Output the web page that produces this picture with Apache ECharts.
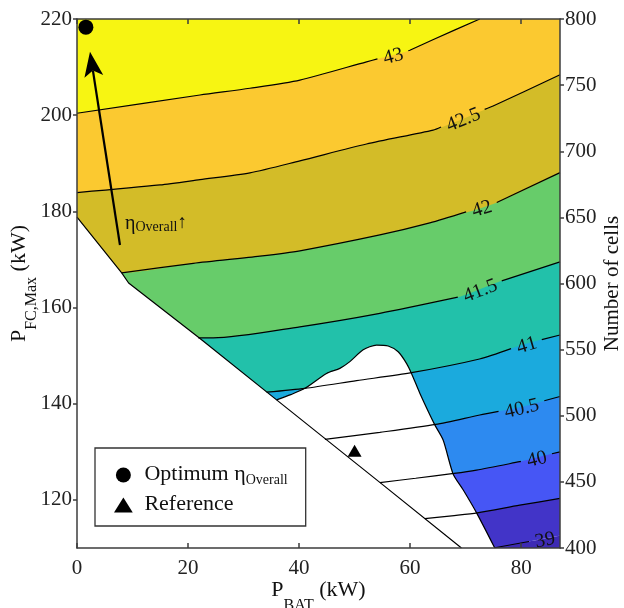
<!DOCTYPE html>
<html>
<head>
<meta charset="utf-8">
<script src="https://cdn.jsdelivr.net/npm/echarts@6.0.0/dist/echarts.min.js"></script>
<style>
html,body{margin:0;padding:0;background:#ffffff;}
#chart{width:624px;height:608px;}
</style>
</head>
<body>
<div id="chart"></div>
<script>
// ---------------- data ----------------
const xTicks = [0, 20, 40, 60, 80];
const yTicks = [120, 140, 160, 180, 200, 220];
const cellTicks = [400, 450, 500, 550, 600, 650, 700, 750, 800];

const levels = [39, 39.5, 40, 40.5, 41, 41.5, 42, 42.5, 43];
const contour39   = [[75.25,110.05],[82.15,111.5],[87,112.6]];
const contour39_5 = [[62.65,116.1],[67.5,116.7],[72.1,117.3],[79.75,118.9],[87,120.3]];
const contour40   = [[54.55,123.6],[61,124.5],[67.9,125.5],[71.95,126.2],[79.75,127.95],[87,130.0]];
const contour40_5 = [[44.65,132.6],[54.55,134.05],[64.6,135.7],[72.55,137.65],[80,139.3],[87,141.5]];
const contour41   = [[34.15,142.4],[41.05,143.2],[50.35,144.8],[60.25,146.45],[72.5,149.3],[80.95,152.5],[87,154.3]];
const contour41_5 = [[21.85,153.7],[24.55,153.7],[40.15,156.0],[54.55,158.8],[68.95,162.25],[76.15,165.4],[87,169.5]];
const contour42   = [[8.05,167.2],[20.95,169.2],[32.95,170.7],[40.15,171.8],[54.55,175.1],[63.55,177.6],[75.55,181.8],[87,188.05]];
const contour42_5 = [[0,183.9],[14.95,185.5],[22.15,186.6],[31.15,188.0],[40.15,190.5],[52.15,194.0],[64.15,196.9],[74.95,201.9],[87,208.4]];
const contour43   = [[0,200.4],[22.15,204.2],[31.15,205.6],[40.15,207.3],[52.15,211.1],[59.95,213.5],[64.1,215.7],[72.55,220]];
const contourLabelX = [84.25, null, 82.75, 80.05, 80.95, 72.55, 72.85, 69.5, 56.9];

const diagonalBoundary = [[0,178.8],[8.05,167.2],[9.3,165.1],[22.1,153.6],[35.95,140.8],[54.6,123.6],[69.25,110]];
const holeBoundary = [[35.95,140.8],[38.5,141.9],[41.05,143.2],[44.95,146.3],[47.35,147.35],[49.15,148.75],[51.55,151.2],
  [53.95,152.2],[56.05,152.0],[57.85,150.8],[59.35,148.4],[60.25,146.3],[61.75,142.2],[64.45,135.6],[65.95,132.45],
  [67.75,125.4],[69.55,122.1],[71.95,117.35],[75.25,110]];

const optimumPoint = [[1.6, 218.3]];
const referencePoint = [[50.0, 130.2]];
const arrowSegment = [[7.74, 173.0, 2.34, 213.2]];
const etaTextAt = [[8.64, 177.2]];

// ---------------- styling ----------------
const FONT = 'Liberation Serif';
const bandColors = ['#4234C8', '#4656F5', '#2D8AF0', '#1BAADD', '#22C1AA', '#67CC6A', '#D3BC28', '#FBC930', '#F7F512'];
const belowColor = '#3D2AB4';
const X_MIN = 0, X_MAX = 87, Y_MIN = 110, Y_MAX = 220;
const GRID = {left: 77, right: 64, top: 19, bottom: 60};
const pxPerX = (624 - GRID.left - GRID.right) / (X_MAX - X_MIN);
const pxPerY = (608 - GRID.top - GRID.bottom) / (Y_MAX - Y_MIN);
const SMOOTH = 0.25;
const contours = [contour39, contour39_5, contour40, contour40_5, contour41, contour41_5, contour42, contour42_5, contour43];

function interp(arr, x) {
  if (x <= arr[0][0]) { const a = arr[0], b = arr[1]; return a[1] + (b[1]-a[1])*(x-a[0])/(b[0]-a[0]); }
  for (let i = 1; i < arr.length; i++) {
    if (x <= arr[i][0]) { const a = arr[i-1], b = arr[i]; return a[1] + (b[1]-a[1])*(x-a[0])/(b[0]-a[0]); }
  }
  const a = arr[arr.length-2], b = arr[arr.length-1];
  return a[1] + (b[1]-a[1])*(x-a[0])/(b[0]-a[0]);
}
function fmtLevel(v) { return String(v); }
function textWidth(t) { let w = 0; for (const ch of t) w += (ch === '.') ? 0.25 : 0.5; return w * 20; }

const series = [];
let z = 1;
series.push({type: 'line', data: contour39, symbol: 'none', smooth: SMOOTH, silent: true, z: z++,
  lineStyle: {width: 0, opacity: 0}, areaStyle: {origin: 'start', color: belowColor, opacity: 1}});
contours.forEach((c, i) => {
  const d = c[0][0] > X_MIN ? [[X_MIN, c[0][1]]].concat(c) : c;
  series.push({type: 'line', data: d, symbol: 'none', smooth: SMOOTH, silent: true, z: z++,
    lineStyle: {width: 0, opacity: 0}, areaStyle: {origin: 'end', color: bandColors[i], opacity: 1}});
});
series.push({type: 'line', data: diagonalBoundary, symbol: 'none', silent: true, z: 20,
  lineStyle: {width: 0, opacity: 0}, areaStyle: {origin: 'start', color: '#ffffff', opacity: 1}});
series.push({type: 'line', data: holeBoundary, symbol: 'none', smooth: SMOOTH, silent: true, z: 20,
  lineStyle: {width: 0, opacity: 0}, areaStyle: {origin: 'start', color: '#ffffff', opacity: 1}});
series.push({type: 'line', data: diagonalBoundary, symbol: 'none', silent: true, z: 30,
  lineStyle: {width: 1.2, color: '#000'}});
series.push({type: 'line', data: holeBoundary, symbol: 'none', smooth: SMOOTH, silent: true, z: 30,
  lineStyle: {width: 1.2, color: '#000'}});
const labelItems = [];
contours.forEach((c, i) => {
  const lx = contourLabelX[i];
  const segs = [];
  if (lx == null) { segs.push(c); }
  else {
    const txt = fmtLevel(levels[i]);
    const dyPx = (interp(c, lx + 1) - interp(c, lx - 1)) / 2 * pxPerY;
    const cos = pxPerX / Math.hypot(pxPerX, dyPx);
    const half = (textWidth(txt) + 12) / 2 * cos / pxPerX;
    const xl = lx - half, xr = lx + half;
    const left = c.filter(p => p[0] < xl);
    if (left.length) segs.push(left.concat([[xl, interp(c, xl)]]));
    if (xr < X_MAX) segs.push([[xr, interp(c, xr)]].concat(c.filter(p => p[0] > xr)));
    labelItems.push({x: lx, y: interp(c, lx), c: c, text: txt});
  }
  segs.forEach(s => series.push({type: 'line', data: s, symbol: 'none', smooth: SMOOTH,
    silent: true, z: 30, lineStyle: {width: 1.2, color: '#000'}}));
});
series.push({type: 'custom', data: labelItems.map(L => [L.x, L.y]), z: 35, silent: true,
  renderItem: function (params, api) {
    const L = labelItems[params.dataIndex];
    const p = api.coord([L.x, L.y]);
    const o = api.coord([L.x - 1, interp(L.c, L.x - 1)]);
    const q = api.coord([L.x + 1, interp(L.c, L.x + 1)]);
    const ang = Math.atan2(q[1] - o[1], q[0] - o[0]);
    return {type: 'text', x: p[0], y: p[1], rotation: -ang,
      style: {text: L.text, x: 0, y: 2, align: 'center', verticalAlign: 'middle', fontSize: 20, fontFamily: FONT, fill: '#111'}};
  }});
series.push({type: 'custom', data: arrowSegment, z: 45, silent: true, clip: false,
  renderItem: function (params, api) {
    const a = api.coord([api.value(0), api.value(1)]);
    const b = api.coord([api.value(2), api.value(3)]);
    let dx = b[0] - a[0], dy = b[1] - a[1];
    const len = Math.hypot(dx, dy); dx /= len; dy /= len;
    const nx = -dy, ny = dx;
    const HL = 25, HW = 9.5, NOTCH = 6;
    const bx = b[0] - dx * HL, by = b[1] - dy * HL;
    const mx = b[0] - dx * (HL - NOTCH), my = b[1] - dy * (HL - NOTCH);
    return {type: 'group', children: [
      {type: 'line', shape: {x1: a[0], y1: a[1], x2: mx, y2: my}, style: {stroke: '#000', lineWidth: 2.2}},
      {type: 'polygon', shape: {points: [[b[0], b[1]], [bx + nx * HW, by + ny * HW], [mx, my], [bx - nx * HW, by - ny * HW]]},
        style: {fill: '#000'}}
    ]};
  }});
series.push({type: 'custom', data: etaTextAt, z: 45, silent: true,
  renderItem: function (params, api) {
    const p = api.coord([api.value(0), api.value(1)]);
    return {type: 'text', x: p[0], y: p[1], style: {
      text: '{e|η}{s|Overall}{a|↑}', align: 'left', verticalAlign: 'middle', fill: '#111',
      rich: {
        e: {fontSize: 20, fontFamily: FONT, fill: '#111', lineHeight: 22, verticalAlign: 'top'},
        s: {fontSize: 14, fontFamily: FONT, fill: '#111', lineHeight: 16, padding: [6, 0, 0, 0], verticalAlign: 'top'},
        a: {fontSize: 19, fontFamily: FONT, fill: '#111', lineHeight: 22, verticalAlign: 'top'}
      }}};
  }});
series.push({type: 'scatter', name: 'Optimum', data: optimumPoint, symbol: 'circle', symbolSize: 15,
  itemStyle: {color: '#000', opacity: 1}, z: 50, silent: true});
series.push({type: 'scatter', name: 'Reference', data: referencePoint, symbol: 'path://M0,12 L7,0 L14,12 Z', symbolSize: [14, 12],
  itemStyle: {color: '#000', opacity: 1}, z: 50, silent: true});

const axisLineStyle = {color: '#3c3c3c', width: 1.5};
const labelStyle = {fontFamily: FONT, fontSize: 21, color: '#222'};
const nameRich = {
  p: {fontFamily: FONT, fontSize: 22, color: '#111', lineHeight: 24, verticalAlign: 'top'},
  s: {fontFamily: FONT, fontSize: 16, color: '#111', lineHeight: 18, padding: [19, 0, 0, 0], verticalAlign: 'top'}
};
const nameRichLeft = {
  p: nameRich.p,
  s: {fontFamily: FONT, fontSize: 16, color: '#111', lineHeight: 18, padding: [16, 0, 0, 0], verticalAlign: 'top'}
};

const option = {
  animation: false,
  backgroundColor: '#ffffff',
  grid: {left: GRID.left, right: GRID.right, top: GRID.top, bottom: GRID.bottom, containLabel: false, outerBoundsMode: 'none'},
  legend: {
    orient: 'vertical', left: 95, top: 448, padding: [15, 18, 11, 19], itemGap: 6, itemWidth: 32, itemHeight: 15,
    borderColor: '#333', borderWidth: 1.3, borderRadius: 0, backgroundColor: '#ffffff', selectedMode: false, z: 60,
    data: [{name: 'Optimum', icon: 'circle', itemStyle: {color: '#000', opacity: 1}},
           {name: 'Reference', icon: 'path://M0,12 L7.5,0 L15,12 Z', itemStyle: {color: '#000', opacity: 1}}],
    formatter: function (n) { return n === 'Optimum' ? '{p|Optimum }{e|η}{s|Overall}' : '{p|Reference}'; },
    textStyle: {color: '#111', rich: {
      p: {fontFamily: FONT, fontSize: 22, color: '#111', lineHeight: 24, verticalAlign: 'top'},
      e: {fontFamily: FONT, fontSize: 22, color: '#111', lineHeight: 24, verticalAlign: 'top'},
      s: {fontFamily: FONT, fontSize: 14, color: '#111', lineHeight: 16, padding: [10, 0, 0, 0], verticalAlign: 'top'}
    }}
  },
  xAxis: [
    {type: 'value', position: 'bottom', min: X_MIN, max: X_MAX, z: 50,
      axisLine: {show: true, onZero: false, lineStyle: axisLineStyle},
      axisTick: {show: true, inside: true, length: 5, customValues: xTicks, lineStyle: axisLineStyle},
      axisLabel: Object.assign({customValues: xTicks, margin: 10}, labelStyle),
      splitLine: {show: false},
      name: '{p|P}{s|BAT}{p| (kW)}', nameLocation: 'middle', nameGap: 31, nameMoveOverlap: false,
      nameTextStyle: {rich: nameRich}},
    {type: 'value', position: 'top', min: X_MIN, max: X_MAX, z: 50,
      axisLine: {show: true, onZero: false, lineStyle: axisLineStyle},
      axisTick: {show: true, inside: true, length: 5, customValues: xTicks, lineStyle: axisLineStyle},
      axisLabel: {show: false}, splitLine: {show: false}}
  ],
  yAxis: [
    {type: 'value', position: 'left', min: Y_MIN, max: Y_MAX, z: 50,
      axisLine: {show: true, onZero: false, lineStyle: axisLineStyle},
      axisTick: {show: true, inside: false, length: 4, customValues: yTicks, lineStyle: axisLineStyle},
      axisLabel: Object.assign({customValues: yTicks, margin: 5}, labelStyle),
      splitLine: {show: false},
      name: '{p|P}{s|FC,Max}{p| (kW)}', nameLocation: 'middle', nameGap: 45, nameMoveOverlap: false,
      nameTextStyle: {rich: nameRichLeft}},
    {type: 'value', position: 'right', min: 400, max: 800, interval: 50, z: 50,
      axisLine: {show: true, onZero: false, lineStyle: axisLineStyle},
      axisTick: {show: true, inside: false, length: 4, customValues: cellTicks, lineStyle: axisLineStyle},
      axisLabel: Object.assign({customValues: cellTicks, margin: 5}, labelStyle),
      splitLine: {show: false},
      name: 'Number of cells', nameLocation: 'middle', nameGap: 40, nameRotate: 90, nameMoveOverlap: false,
      nameTextStyle: {fontFamily: FONT, fontSize: 21, color: '#111', lineHeight: 24}}
  ],
  series: series
};

const chart = echarts.init(document.getElementById('chart'), null, {renderer: 'canvas'});
chart.setOption(option);
</script>
</body>
</html>
